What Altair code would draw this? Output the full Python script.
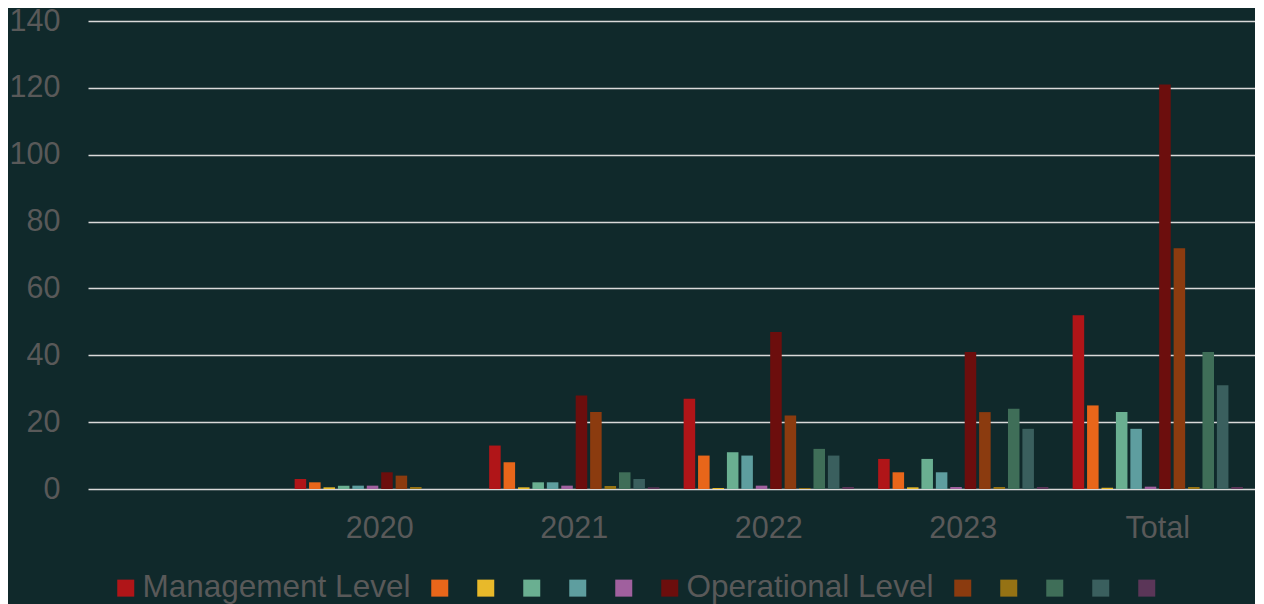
import altair as alt
import pandas as pd

# ---- data ----
categories = [" ", "2020", "2021", "2022", "2023", "Total"]
data_categories = ["2020", "2021", "2022", "2023", "Total"]

series_names = ["Management Level", "", "", "", "", "",
                "Operational Level", "", "", "", "", ""]
series_colors = ["#b01518", "#e8661a", "#e8b92a", "#6aaf91", "#5e9e9f", "#a0609e",
                 "#6c0e0d", "#8b3b0f", "#957214", "#3f6e58", "#3a5f5e", "#5b3658"]

s01 = [3, 13, 27, 9, 52]
s02 = [2, 8, 10, 5, 25]
s03 = [0.5, 0.5, 0.3, 0.5, 0.4]
s04 = [1, 2, 11, 9, 23]
s05 = [1, 2, 10, 5, 18]
s06 = [1, 1, 1, 0.6, 0.7]
s07 = [5, 28, 47, 41, 121]
s08 = [4, 23, 22, 23, 72]
s09 = [0.6, 0.9, 0.3, 0.6, 0.6]
s10 = [0, 5, 12, 24, 41]
s11 = [0, 3, 10, 18, 31]
s12 = [0, 0.5, 0.6, 0.6, 0.6]

y_ticks = [0, 20, 40, 60, 80, 100, 120, 140]

all_series = [s01, s02, s03, s04, s05, s06, s07, s08, s09, s10, s11, s12]
ids = ["s%02d" % (i + 1) for i in range(len(all_series))]

rows = []
for sid, vals in zip(ids, all_series):
    for cat, v in zip(data_categories, vals):
        rows.append({"cat": cat, "sid": sid, "value": v})
df = pd.DataFrame(rows)

label_expr = "".join(
    "datum.value == '%s' ? '%s' : " % (sid, name)
    for sid, name in zip(ids, series_names) if name
) + "''"

BG = "#10292b"
TXT = "#595959"
FONT = "Liberation Sans"

chart = alt.Chart(df).mark_bar().encode(
    x=alt.X("cat:N",
            scale=alt.Scale(domain=categories, paddingInner=0.11, paddingOuter=0.055),
            axis=alt.Axis(title=None, labelAngle=0, labelFontSize=30.5, labelColor=TXT,
                          labelFont=FONT, domain=False, ticks=False, labelPadding=24)),
    xOffset=alt.XOffset("sid:N", scale=alt.Scale(domain=ids, paddingInner=0.2, paddingOuter=0.1)),
    y=alt.Y("value:Q",
            scale=alt.Scale(domain=[0, 140], nice=False),
            axis=alt.Axis(title=None, values=y_ticks,
                          labelFontSize=30.5, labelColor=TXT, labelFont=FONT,
                          domain=False, ticks=False, labelPadding=28,
                          grid=True, gridColor="#d9d9d9", gridWidth=1.5)),
    color=alt.Color("sid:N",
                    scale=alt.Scale(domain=ids, range=series_colors),
                    legend=alt.Legend(orient="none", legendX=22, legendY=551,
                                      direction="horizontal", columns=12, title=None,
                                      symbolType="square", symbolSize=289,
                                      symbolStrokeWidth=0,
                                      labelFontSize=31.5, labelColor=TXT, labelFont=FONT,
                                      labelOffset=1, columnPadding=13, labelLimit=400,
                                      labelExpr=label_expr)),
).properties(
    width=1167,
    height=468,
    background=BG,
    padding={"left": 80, "top": 13, "right": 0, "bottom": 120},
    autosize=alt.AutoSizeParams(type="none"),
).configure_view(stroke=None)

chart.save("out.html", embed_options={"renderer": "svg", "actions": False})
